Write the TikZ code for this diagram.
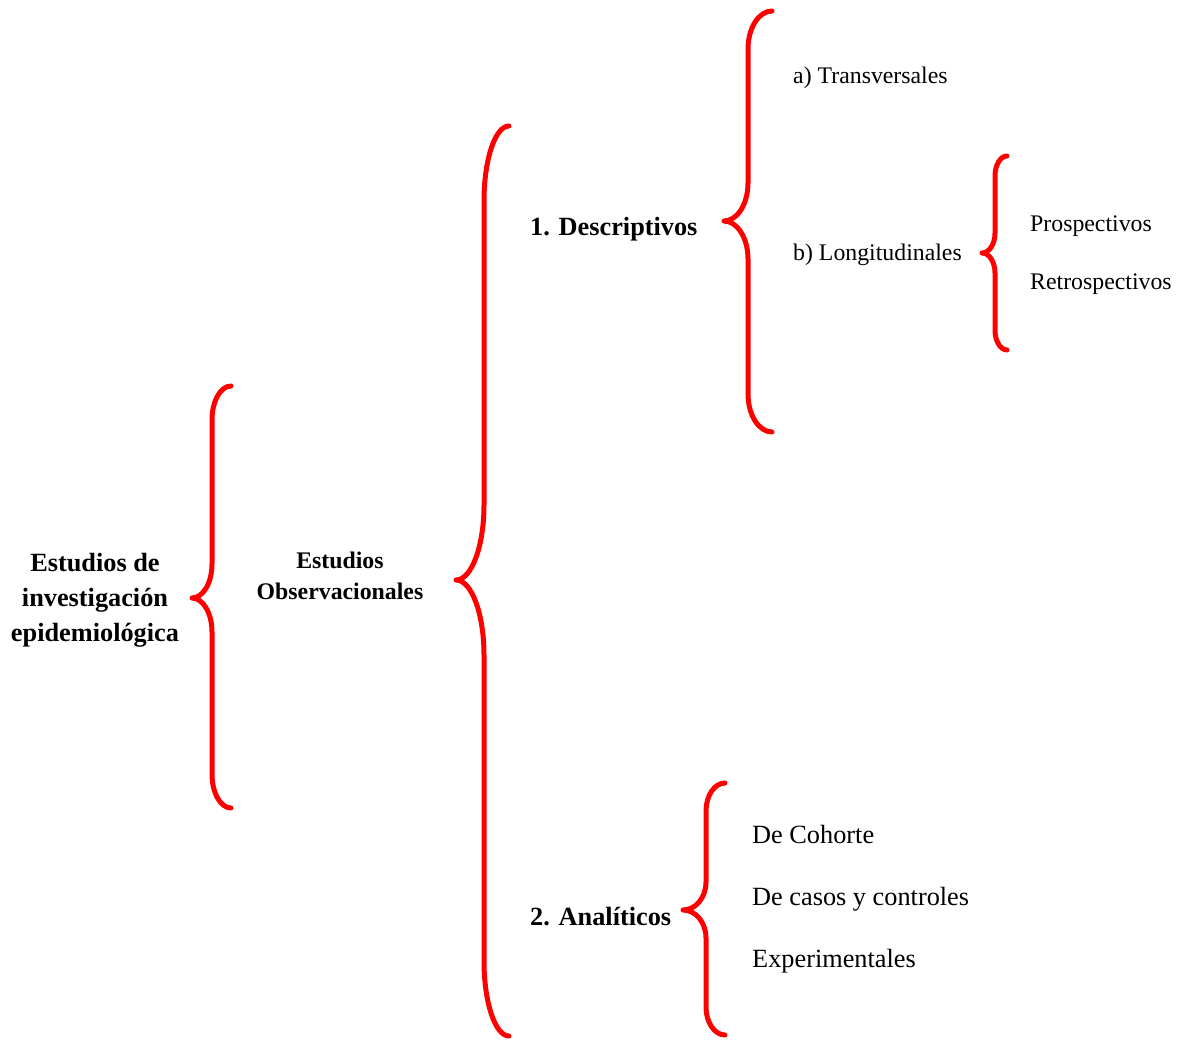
\documentclass[tikz,border=0pt]{standalone}
\usepackage{fontspec}
\setmainfont{Liberation Serif}
\begin{document}
\begin{tikzpicture}[x=1pt,y=-1pt,
  bracestyle/.style={draw=red, line width=5pt, line cap=round, line join=round},
  small/.style={font=\fontsize{23.8}{31}\selectfont, inner sep=0pt},
  large/.style={font=\fontsize{26.3}{35}\selectfont, inner sep=0pt},
  smallbold/.style={font=\fontsize{23.8}{31}\selectfont\bfseries, inner sep=0pt},
  largebold/.style={font=\fontsize{26.3}{35}\selectfont\bfseries, inner sep=0pt}]
\useasboundingbox (0,0) rectangle (1178,1040);

% left curly brace: #1 end x, #2 stem x, #3 tip x, #4 top y, #5 tip y, #6 bottom y, #7 bend radius
% each bend is a quarter ellipse (control factor 0.552)
\newcommand\leftcurly[7]{%
  \path[bracestyle] (#1,#4)
    .. controls ({#1-0.552*(#1-#2)},#4) and (#2,{#4+0.448*#7}) .. (#2,#4+#7)
    -- (#2,#5-#7)
    .. controls (#2,{#5-0.448*#7}) and ({#3+0.552*(#2-#3)},#5) .. (#3,#5)
    .. controls ({#3+0.552*(#2-#3)},#5) and (#2,{#5+0.448*#7}) .. (#2,#5+#7)
    -- (#2,#6-#7)
    .. controls (#2,{#6-0.448*#7}) and ({#1-0.552*(#1-#2)},#6) .. (#1,#6);}

\leftcurly{231}{212}{192}{386}{598}{808}{34}
\leftcurly{509}{484}{456}{126}{580}{1036}{75}
\leftcurly{772}{748}{724}{11}{221}{432}{38}
\leftcurly{1007}{995}{982}{156}{253}{350}{20}
\leftcurly{725}{706}{683}{783}{910}{1035}{28}

% root
\node[largebold, align=center, anchor=base] (root) at (95,641)
  {Estudios de\\investigación\\epidemiológica};
\node[smallbold, align=center, anchor=base] (obs) at (340,599)
  {Estudios\\Observacionales};

% first level
\node[largebold, anchor=base west] (desc) at (530,236) {1. Descriptivos};
\node[largebold, anchor=base west] (anal) at (530,925) {2. Analíticos};

% descriptive studies
\node[small, anchor=base west] (trans) at (793,84) {a) Transversales};
\node[small, anchor=base west] (long) at (793,261) {b) Longitudinales};
\node[small, anchor=base west] (pros) at (1030,232) {Prospectivos};
\node[small, anchor=base west] (retro) at (1030,290) {Retrospectivos};

% analytic studies
\node[large, anchor=base west] (coh) at (752,843) {De Cohorte};
\node[large, anchor=base west] (cas) at (752,905) {De casos y controles};
\node[large, anchor=base west] (exp) at (752,967) {Experimentales};
\end{tikzpicture}
\end{document}
